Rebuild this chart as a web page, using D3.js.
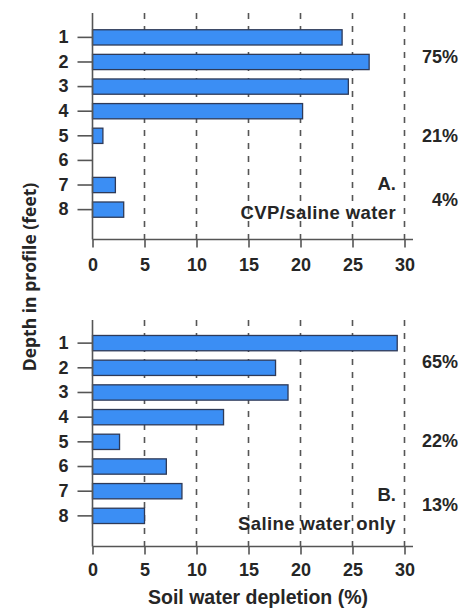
<!DOCTYPE html>
<html><head><meta charset="utf-8">
<script src="https://cdn.jsdelivr.net/npm/d3@7"></script>
<style>
body{margin:0;background:#fff;}
svg{display:block;}
text{font-family:"Liberation Sans",Arial,Helvetica,sans-serif;font-weight:bold;fill:#262626;}
</style></head>
<body>
<svg id="c" width="474" height="612"></svg>
<script>
const depths = [1,2,3,4,5,6,7,8];
const valuesA = [24.0, 26.6, 24.6, 20.2, 1.0, 0, 2.2, 3.0];
const valuesB = [29.3, 17.6, 18.8, 12.6, 2.6, 7.1, 8.6, 5.0];
const xTicks = [0,5,10,15,20,25,30];
const sharesA = [{label:"75%", depth:1.8},{label:"21%", depth:5},{label:"4%", depth:7.6}];
const sharesB = [{label:"65%", depth:1.75},{label:"22%", depth:4.95},{label:"13%", depth:7.55}];
const panelA = {letter:"A.", name:"CVP/saline water"};
const panelB = {letter:"B.", name:"Saline water only"};
const xTitle = "Soil water depletion (%)";
const yTitle = "Depth in profile (feet)";

const svg = d3.select("#c");
const x = d3.scaleLinear().domain([0,30]).range([92.5,404.5]);
const FONT = '"Liberation Sans",Arial,sans-serif';

function panel(values, shares, info, top, axisY, yRange, tickBase, nameBase) {
  const g = svg.append("g");
  const y = d3.scaleBand().domain(depths).range(yRange).padding(0.38);
  const yc = d => y(d) + y.bandwidth()/2;
  const yLin = d3.scaleLinear().domain([1,8]).range([yc(1), yc(8)]);

  g.selectAll(".grid").data(xTicks.slice(1)).join("line")
    .attr("x1", d=>x(d)).attr("x2", d=>x(d))
    .attr("y1", top).attr("y2", axisY)
    .attr("stroke","#555").attr("stroke-width",1.6)
    .attr("stroke-dasharray","6,7");

  g.selectAll(".bar").data(depths.filter((d,i)=>values[i]>0)).join("rect")
    .attr("x", x(0)).attr("y", d=>y(d))
    .attr("width", d=>x(values[d-1])-x(0))
    .attr("height", y.bandwidth())
    .attr("fill","#3b8ef4").attr("stroke","#2e3a58").attr("stroke-width",1.3);

  const ya = d3.axisLeft(y).tickSize(15).tickPadding(9);
  const yg = g.append("g").attr("transform",`translate(${x(0)},0)`).call(ya);
  yg.select(".domain").remove();
  yg.append("line").attr("x1",0).attr("x2",0).attr("y1",top).attr("y2",axisY).attr("stroke","#555").attr("stroke-width",1.6);
  yg.selectAll(".tick line").attr("stroke","#555").attr("stroke-width",1.6);
  yg.selectAll(".tick text").attr("font-size",18).attr("fill","#262626").style("font-family",FONT).style("font-weight","bold");

  const xa = d3.axisBottom(x).tickValues(xTicks).tickSize(8).tickPadding(11);
  const xg = g.append("g").attr("transform",`translate(0,${axisY})`).call(xa);
  xg.select(".domain").remove();
  xg.append("line").attr("x1",x(0)).attr("x2",413).attr("y1",0).attr("y2",0).attr("stroke","#555").attr("stroke-width",1.6);
  xg.selectAll(".tick line").attr("stroke","#555").attr("stroke-width",1.6);
  xg.selectAll(".tick text").attr("font-size",18).attr("fill","#262626").attr("dy",null)
    .attr("y", tickBase - axisY)
    .style("font-family",FONT).style("font-weight","bold");

  g.selectAll(".share").data(shares).join("text")
    .attr("x",458).attr("y",d=>yLin(d.depth)).attr("dy","0.35em")
    .attr("text-anchor","end").attr("font-size",18).text(d=>d.label);

  g.append("text").attr("x",396).attr("y",nameBase-29).attr("text-anchor","end").attr("font-size",18.5).text(info.letter);
  g.append("text").attr("x",396).attr("y",nameBase).attr("text-anchor","end").attr("font-size",18.5)
    .attr("letter-spacing","0.4").text(info.name);
}

panel(valuesA, sharesA, panelA, 13, 239.5, [20.4,226.6], 271, 219);
panel(valuesB, sharesB, panelB, 320, 546.5, [326.1,532.9], 575.5, 530);

svg.append("text").attr("x",258).attr("y",603.5).attr("text-anchor","middle").attr("font-size",19.5).text(xTitle);
svg.append("text").attr("transform","translate(36,277) rotate(-90)").attr("text-anchor","middle")
  .attr("font-size",17.5).style("font-family",'"Open Sans",sans-serif').text(yTitle);
</script>
</body></html>
